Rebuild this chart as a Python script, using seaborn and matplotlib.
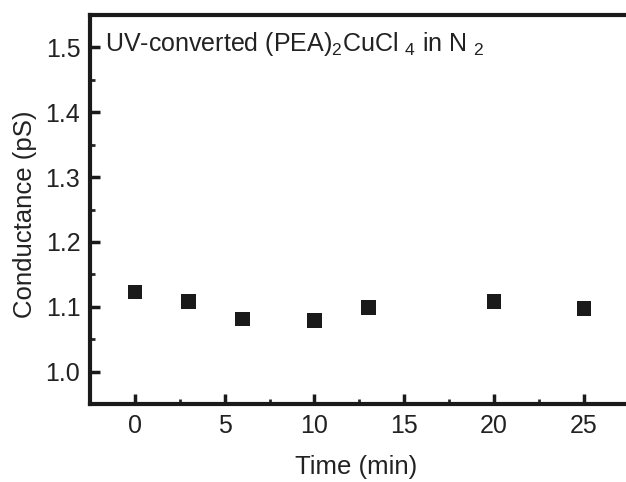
import numpy as np
import pandas as pd
import matplotlib
matplotlib.use('Agg')
import matplotlib.pyplot as plt
import seaborn as sns
from matplotlib.ticker import MultipleLocator

time_min = [0, 3, 6, 10, 13, 20, 25]
conductance_ps = [1.123, 1.108, 1.081, 1.079, 1.099, 1.108, 1.097]

df = pd.DataFrame({'time': time_min, 'conductance': conductance_ps})

sns.set_style('ticks')
plt.rcParams['font.family'] = ['Liberation Sans', 'DejaVu Sans']
plt.rcParams['mathtext.fontset'] = 'custom'
plt.rcParams['mathtext.rm'] = 'Liberation Sans'
plt.rcParams['mathtext.it'] = 'Liberation Sans'

fig = plt.figure(figsize=(6.26, 4.82), dpi=100)
ax = fig.add_axes([0.1438, 0.1618, 0.8562, 0.807])

sns.scatterplot(data=df, x='time', y='conductance', marker='s', s=110,
                color='#1a1a1a', edgecolor='none', ax=ax)

ax.set_xlim(-2.5, 27.35)
ax.set_ylim(0.95, 1.55)
ax.xaxis.set_major_locator(MultipleLocator(5))
ax.xaxis.set_minor_locator(MultipleLocator(2.5))
ax.yaxis.set_major_locator(MultipleLocator(0.1))
ax.yaxis.set_minor_locator(MultipleLocator(0.05))
ax.tick_params(which='major', direction='in', length=7, width=2.5,
               labelsize=18, colors='#1a1a1a', labelcolor='#222222', pad=7)
ax.tick_params(which='minor', direction='in', length=3.5, width=2)
ax.tick_params(top=False, right=False, which='both')
for side in ['left', 'bottom', 'top']:
    ax.spines[side].set_linewidth(3)
    ax.spines[side].set_color('#1a1a1a')
ax.spines['right'].set_visible(False)

ax.set_xlabel('Time (min)', fontsize=18.5, color='#222222')
ax.set_ylabel('Conductance (pS)', fontsize=18.5, color='#222222')
ax.xaxis.set_label_coords(0.496, -0.13)
ax.yaxis.set_label_coords(-0.099, 0.488)
ax.text(0.028, 0.907, r'UV-converted (PEA)$_2$CuCl $_4$ in N $_2$',
        transform=ax.transAxes, fontsize=18, color='#222222', va='baseline')

fig.savefig('out.png', dpi=100)
